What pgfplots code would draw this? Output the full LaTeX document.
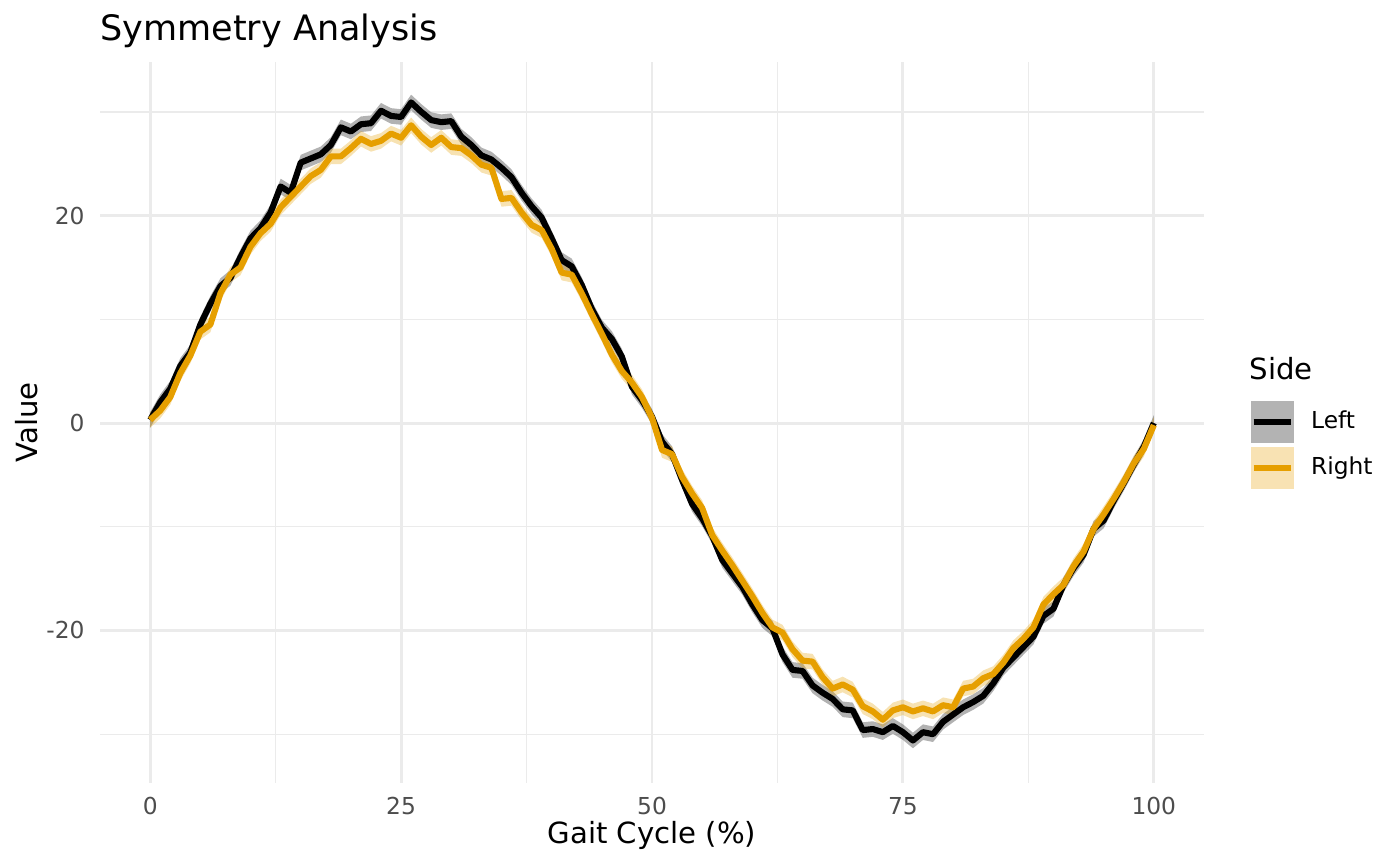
\documentclass[border=0pt]{standalone}
\usepackage{pgfplots}
\pgfplotsset{compat=1.18}
\usepackage{pgfplotstable}
\usepgfplotslibrary{fillbetween}
\usepackage{fontspec}
\setmainfont{DejaVu Sans}
\definecolor{orng}{HTML}{E69F00}
\definecolor{gridc}{HTML}{EBEBEB}
\definecolor{tickc}{HTML}{4D4D4D}
\definecolor{ribL}{HTML}{B3B3B3}
\definecolor{ribR}{HTML}{F8E2B3}

\pgfplotstableread{
x L R
0 0.3 0.3
1 2.0 1.2
2 3.3 2.5
3 5.5 4.8
4 6.8 6.5
5 9.5 8.8
6 11.5 9.5
7 13.2 12.5
8 14.0 14.3
9 16.0 15.0
10 17.8 17.0
11 18.8 18.3
12 20.3 19.2
13 22.8 20.8
14 22.2 21.8
15 25.1 22.8
16 25.5 23.8
17 25.9 24.4
18 26.8 25.7
19 28.5 25.7
20 28.1 26.5
21 28.8 27.4
22 28.9 26.9
23 30.1 27.2
24 29.6 27.9
25 29.5 27.5
26 30.9 28.7
27 30.0 27.6
28 29.2 26.8
29 29.0 27.5
30 29.1 26.6
31 27.6 26.5
32 26.8 25.8
33 25.8 24.9
34 25.4 24.6
35 24.6 21.6
36 23.7 21.7
37 22.2 20.3
38 20.9 19.1
39 19.8 18.6
40 17.8 16.8
41 15.7 14.5
42 15.1 14.3
43 13.3 12.5
44 11.0 10.5
45 9.2 8.6
46 8.1 6.6
47 6.4 5.0
48 3.5 3.9
49 2.2 2.5
50 0.6 0.5
51 -1.8 -2.6
52 -3.0 -3.0
53 -5.5 -5.2
54 -7.8 -6.8
55 -9.2 -8.2
56 -10.9 -10.8
57 -13.2 -12.3
58 -14.5 -13.7
59 -15.8 -15.2
60 -17.5 -16.7
61 -19.0 -18.3
62 -19.8 -19.7
63 -22.3 -20.2
64 -23.8 -21.8
65 -23.9 -22.9
66 -25.3 -23.0
67 -26.0 -24.5
68 -26.6 -25.6
69 -27.6 -25.2
70 -27.7 -25.7
71 -29.6 -27.3
72 -29.5 -27.8
73 -29.8 -28.6
74 -29.2 -27.7
75 -29.8 -27.4
76 -30.6 -27.8
77 -29.8 -27.5
78 -30.0 -27.8
79 -28.8 -27.2
80 -28.1 -27.4
81 -27.4 -25.6
82 -26.9 -25.4
83 -26.3 -24.6
84 -25.1 -24.2
85 -23.6 -23.1
86 -22.6 -21.7
87 -21.6 -20.8
88 -20.6 -19.7
89 -18.6 -17.5
90 -17.9 -16.5
91 -15.6 -15.6
92 -14.0 -13.8
93 -12.7 -12.4
94 -10.2 -10.2
95 -9.4 -8.8
96 -7.5 -7.3
97 -5.8 -5.7
98 -4.0 -3.9
99 -2.3 -2.5
100 0.0 -0.2
}\data

\begin{document}
\begin{tikzpicture}
\begin{axis}[
  at={(0,0)}, anchor=south west,
  scale only axis, width=397.44bp, height=259.56bp,
  xmin=-5, xmax=105, ymin=-34.7, ymax=34.8,
  clip=false,
  xtick={0,25,50,75,100}, xticklabels={0,25,50,75,100},
  ytick={-20,0,20}, yticklabels={-20,0,20},
  minor xtick={12.5,37.5,62.5,87.5}, minor ytick={-30,-10,10,30},
  grid=both,
  major grid style={draw=gridc, line width=1.07bp},
  minor grid style={draw=gridc, line width=0.53bp},
  axis line style={draw=none},
  major tick length=0pt, minor tick length=0pt,
  tick style={draw=none},
  xticklabel style={font=\fontsize{8.4bp}{10bp}\selectfont, text=tickc, anchor=center, inner sep=0pt, yshift=-8.3bp},
  yticklabel style={font=\fontsize{8.4bp}{10bp}\selectfont, text=tickc, anchor=east, inner sep=0pt, xshift=-5.4bp},
  xlabel={Gait Cycle (\%)},
  xlabel style={font=\fontsize{10.5bp}{12bp}\selectfont, at={(axis description cs:0.5,-0.0725)}, anchor=center, inner sep=0pt},
  ylabel={Value},
  ylabel style={font=\fontsize{10.5bp}{12bp}\selectfont, at={(axis description cs:-0.0662,0.5)}, anchor=center, inner sep=0pt},
  legend cell align=left,
  legend style={at={(axis description cs:1.0417,0.531)}, anchor=north west, draw=none, fill=none, inner sep=0pt, row sep=1.44bp, column sep=6.1bp,
    nodes={inner sep=0pt, font=\fontsize{8.4bp}{10bp}\selectfont}},
]
\addplot[name path=Lu, draw=none, forget plot] table[x=x, y expr=\thisrow{L}+0.75] {\data};
\addplot[name path=Ll, draw=none, forget plot] table[x=x, y expr=\thisrow{L}-0.75] {\data};
\addplot[fill=black, fill opacity=0.3, draw=none, forget plot] fill between[of=Lu and Ll];
\addplot[name path=Ru, draw=none, forget plot] table[x=x, y expr=\thisrow{R}+0.75] {\data};
\addplot[name path=Rl, draw=none, forget plot] table[x=x, y expr=\thisrow{R}-0.75] {\data};
\addplot[fill=orng, fill opacity=0.3, draw=none, forget plot] fill between[of=Ru and Rl];

\addplot[black, line width=2.2bp, line join=round,
  legend image code/.code={\path[fill=ribL, draw=none] (0bp,-7.55bp) rectangle (15.5bp,7.55bp); \draw[black, line width=2.2bp] (1bp,0bp) -- (14.5bp,0bp);}]
  table[x=x, y=L] {\data};
\addlegendentry{Left}
\addplot[orng, line width=2.2bp, line join=round,
  legend image code/.code={\path[fill=ribR, draw=none] (0bp,-7.55bp) rectangle (15.5bp,7.55bp); \draw[orng, line width=2.2bp] (1bp,0bp) -- (14.5bp,0bp);}]
  table[x=x, y=R] {\data};
\addlegendentry{Right}

\node[anchor=base west, inner sep=0pt, font=\fontsize{10.5bp}{12bp}\selectfont] at (axis description cs:1.0408,0.5603) {Side};
\node[anchor=base west, inner sep=0pt, font=\fontsize{12.6bp}{15bp}\selectfont] at (axis description cs:0,1.0293) {Symmetry Analysis};
\end{axis}
\pgfresetboundingbox
\useasboundingbox (-36bp,-29.88bp) rectangle (468bp,281.88bp);
\end{tikzpicture}
\end{document}
